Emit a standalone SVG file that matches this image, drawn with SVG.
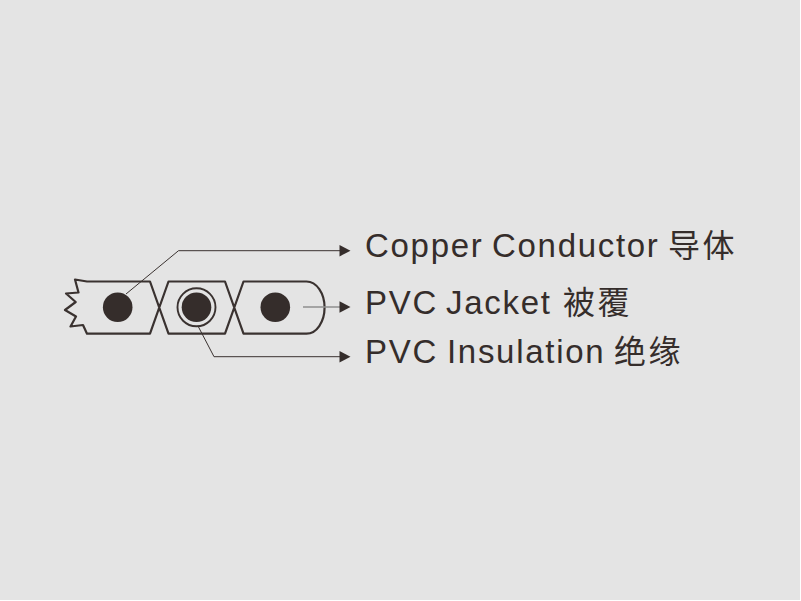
<svg xmlns="http://www.w3.org/2000/svg" width="801" height="601" viewBox="0 0 801 601">
<style>
.j{fill:none;stroke:#3a3230;stroke-width:2.200;stroke-linejoin:round}
.l{fill:none;stroke:#3a3230;stroke-width:1}
.c{fill:#352d2b}
.h{fill:#352d2b}
text{font-family:"Liberation Sans","Noto Sans CJK SC",sans-serif;font-size:33px;fill:#352d2b;letter-spacing:1.7px}
.z{font-size:32px;letter-spacing:2.500px}
</style>
<rect width="801" height="601" fill="#ffffff"/>
<rect width="800" height="600" fill="#e4e4e4"/>
<g id="cable">
<path class="j" d="M87 281.500L75 279.500L78.500 292.500L66 293.500L75.700 302L65 310L76 316.500L70.500 326.500L83 325L87 333.700H150L168.500 281.500H225L243.500 333.700H306.500A18 26 0 0 0 306.500 281.500H243.500L225 333.700H168.500L150 281.500Z"/>
<circle class="c" cx="117.700" cy="307.300" r="14.800"/>
<circle class="c" cx="196.500" cy="307.300" r="14.800"/>
<circle cx="196.500" cy="307.300" r="19" fill="none" stroke="#3a3230" stroke-width="1.900"/>
<circle class="c" cx="275.300" cy="307.300" r="14.800"/>
</g>
<g id="connectors">
<path class="l" d="M126 294L178.500 250.700H340"/>
<path class="l" d="M198 326L214 356.700H340"/>
<path d="M303 307H340" fill="none" stroke="#8f8f8f" stroke-width="1.500"/>
<path class="h" d="M339.500 245L350.500 250.700L339.500 256.400Z"/>
<path class="h" d="M339.500 301.300L350.500 307L339.500 312.700Z"/>
<path class="h" d="M339.500 351L350.500 356.700L339.500 362.400Z"/>
</g>
<g id="label-conductor"><text y="257"><tspan x="365">Copper</tspan><tspan x="492">Conductor</tspan><tspan class="z" x="668">导体</tspan></text></g>
<g id="label-jacket"><text y="314"><tspan x="365">PVC</tspan><tspan x="446">Jacket</tspan><tspan class="z" x="563">被覆</tspan></text></g>
<g id="label-insulation"><text y="362.500"><tspan x="365">PVC</tspan><tspan x="447">Insulation</tspan><tspan class="z" x="614">绝缘</tspan></text></g>
</svg>
